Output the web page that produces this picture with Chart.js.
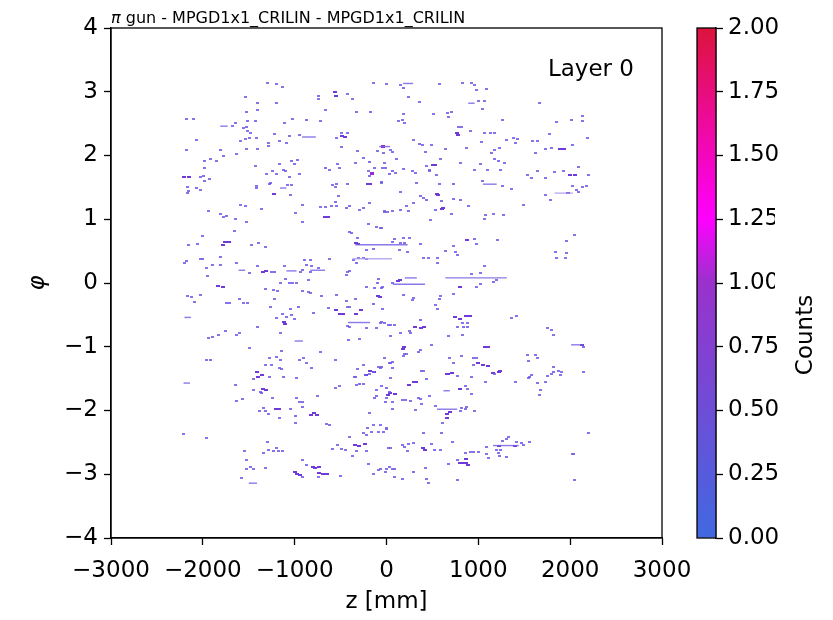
<!DOCTYPE html>
<html>
<head>
<meta charset="utf-8">
<script src="https://cdn.jsdelivr.net/npm/chart.js@4.4.0/dist/chart.umd.min.js"></script>
<style>
  html, body { margin: 0; padding: 0; background: #fff; }
  #wrap { position: relative; width: 833px; height: 620px; }
  #main { position: absolute; left: 0; top: 0; }
  #cbar { position: absolute; left: 680px; top: 0; }
</style>
</head>
<body>
<div id="wrap">
  <canvas id="main" width="833" height="620"></canvas>
  <canvas id="cbar" width="153" height="620"></canvas>
</div>
<script>
// hits: [z in mm, phi]
const hits = [
  [-1300,3.13],[-1200,3.12],[-1130,3.07],[-420,2.96],[-140,3.13],[0,3.12],[-1530,2.91],[-740,2.93],[-740,2.88],[-370,2.88],
  [-1400,2.82],[-1200,2.83],[-660,2.72],[-1410,2.71],[-1520,2.68],[-330,2.68],[-170,2.69],[-2100,2.57],[-2180,2.58],[-1510,2.54],
  [-1430,2.54],[-1640,2.51],[-1680,2.46],[-1520,2.45],[-1560,2.43],[-1510,2.38],[-1480,2.35],[-1490,2.27],[-1530,2.26],[-1590,2.23],
  [-1420,2.27],[-1110,2.51],[-1020,2.57],[-870,2.56],[-720,2.54],[-950,2.32],[-1220,2.34],[-1060,2.30],[-1280,2.19],[-1290,2.15],
  [-1160,2.22],[-1090,2.20],[-490,2.36],[-420,2.36],[-540,2.27],[-490,2.14],[-100,2.07],[-30,2.04],[-320,2.07],[-2070,2.24],
  [-2180,2.09],[-1810,2.09],[-1780,1.99],[-1630,2.02],[-1520,2.10],[-1400,2.10],
  [150,3.11],[180,3.06],[580,3.12],[830,3.14],[930,3.13],[960,3.11],[980,3.02],[1090,3.05],[240,2.91],[360,2.84],
  [1000,2.86],[1070,2.86],[1050,2.73],[510,2.65],[180,2.65],[660,2.67],[710,2.68],[670,2.61],[130,2.54],[170,2.56],
  [200,2.51],[1260,2.55],[780,2.44],[820,2.45],[910,2.39],[1070,2.36],[1130,2.36],[1180,2.36],[1310,2.24],[1380,2.28],
  [1430,2.26],[1400,2.20],[1030,2.21],[1590,2.22],[1640,2.23],[1670,2.83],[1850,2.53],[2010,2.56],[2130,2.62],[2130,2.54],
  [1780,2.34],[2190,2.27],[2030,2.17],[1800,2.11],[1730,2.10],[1620,2.04],[70,2.06],[40,2.08],[290,2.24],[360,2.18],
  [390,2.16],[490,2.16],[430,2.06],[640,2.10],[870,2.12],[1140,2.04],[1180,2.08],[1230,2.11],
  [-1980,1.91],[-1920,1.94],[-1850,1.92],[-1430,1.84],[-1980,1.81],[-2020,1.66],[-1990,1.68],[-1930,1.63],[-1980,1.60],[-2170,1.51],
  [-2160,1.44],[-2170,1.41],[-2070,1.49],[-2030,1.46],[-1420,1.52],[-1420,1.49],[-1310,1.71],[-1240,1.76],[-1200,1.71],[-1160,1.87],
  [-1120,1.77],[-1100,1.76],[-1030,1.91],[-1000,1.87],[-970,1.93],[-1060,1.66],[-950,1.71],[-1260,1.57],[-1270,1.55],[-1080,1.53],
  [-1030,1.53],[-1050,1.38],[-660,1.80],[-620,1.78],[-530,1.87],[-510,1.80],[-590,1.53],[-560,1.51],[-540,1.55],[-430,1.56],
  [-520,1.36],[-340,1.89],[-250,1.96],[-180,1.90],[-200,1.76],[-190,1.68],[-130,1.81],[-40,1.81],[-10,1.80],[-50,1.57],
  [30,1.71],[-1590,1.23],[-1540,1.21],[-1940,1.13],[-1810,1.08],[-1780,1.04],[-1740,1.05],[-1640,1.01],[-1520,0.96],[-1360,1.16],
  [-990,1.10],[-910,1.23],[-910,0.96],[-720,1.19],[-660,1.20],[-600,1.21],[-540,1.21],[-550,1.27],[-400,1.21],[-440,1.17],
  [-290,1.15],[-250,1.17],[-190,1.26],[-20,1.12],[10,1.11],[-200,0.92],[-110,0.88],[-70,0.86],
  [110,1.94],[590,1.94],[-20,1.88],[440,1.84],[470,1.77],[810,1.88],[960,1.78],[1020,1.87],[1100,1.78],[1180,1.95],
  [1220,1.91],[1290,1.88],[1240,1.77],[100,1.73],[60,1.75],[280,1.76],[320,1.72],[180,1.79],[470,1.75],[540,1.69],
  [1530,1.69],[1580,1.65],[1730,1.65],[1640,1.75],[1830,1.74],[1930,1.75],[2090,1.82],[2200,1.69],[-50,1.58],[330,1.57],
  [580,1.55],[730,1.56],[1260,1.52],[1360,1.47],[1040,1.60],[150,1.42],[370,1.36],[440,1.30],[400,1.34],[730,1.32],
  [600,1.28],[810,1.30],[2070,1.46],[2090,1.43],[2130,1.51],[2180,1.52],[2020,1.52],[1790,1.30],[1730,1.38],[1490,1.22],
  [890,1.21],[530,1.15],[710,1.09],[-20,1.13],[70,1.13],[150,1.15],[240,1.13],[220,1.21],[290,1.25],[1160,1.09],
  [1270,1.07],[1080,1.07],[1070,1.01],[480,0.99],[-50,0.86],
  [-2000,0.74],[-1660,0.82],[-2160,0.60],[-2060,0.61],[-1470,0.59],[-1390,0.63],[-1320,0.56],[-2200,0.32],[-2180,0.35],[-2030,0.37],
  [-2000,0.38],[-1960,0.23],[-1890,0.29],[-1810,0.29],[-1810,0.41],[-1630,0.31],[-1950,0.11],[-1490,0.16],[-1410,0.27],[-1250,0.18],
  [-1220,0.18],[-1110,0.26],[-940,0.18],[-910,0.21],[-870,0.28],[-830,0.18],[-820,0.26],[-740,0.24],[-890,0.36],[-830,0.36],
  [-620,0.37],[-400,0.80],[-380,0.79],[-320,0.70],[-360,0.36],[-310,0.39],[-250,0.40],[-430,0.18],[-400,0.19],[-440,0.13],
  [-140,0.54],[-220,0.52],[-2170,-0.20],[-2120,-0.22],[-2020,-0.19],[-2090,-0.30],[-1740,-0.31],[-1710,-0.31],[-1600,-0.25],[-1560,-0.31],
  [-1510,-0.32],[-1320,-0.10],[-1230,-0.11],[-1190,-0.13],[-1150,0.00],[-1060,0.00],[-1020,0.00],[-980,0.00],[-1100,0.07],[-850,0.05],
  [-910,-0.13],[-850,-0.14],[-830,-0.15],[-710,-0.20],[-1220,-0.25],[-1260,-0.38],[-1130,-0.49],[-1090,-0.53],[-1030,-0.50],[-960,-0.37],
  [-1050,-0.40],[-1000,-0.56],[-1200,-0.55],[-800,-0.47],[-630,-0.39],[-540,-0.19],[-440,-0.28],[-420,-0.37],[-400,-0.38],[-340,-0.25],
  [-220,-0.06],[-130,-0.08],[-100,0.00],[-50,-0.08],[-90,0.07],[-140,-0.33],[-40,-0.40],[-400,-0.69],[-430,-0.67],[-330,0.31],
  [-220,0.37],[-110,-0.71],[-70,-0.63],[-20,-0.62],[20,-0.66],[-220,-0.70],[-290,-0.88],[-410,-0.89],[40,-0.83],[-1750,-0.76],
  [-1940,-0.87],[-1890,-0.84],[-1830,-0.82],[-1630,-0.82],[-1600,-0.79],[-1410,-0.69],[-1150,-0.79],
  [90,0.69],[70,0.65],[150,0.63],[200,0.63],[180,0.70],[250,0.70],[370,0.61],[730,0.58],[960,0.69],[980,0.61],
  [1210,0.67],[140,0.51],[230,0.49],[400,0.39],[460,0.40],[560,0.40],[550,0.32],[640,0.50],[750,0.49],[770,0.44],
  [1070,0.27],[930,0.14],[1020,0.15],[60,0.00],[-40,-0.06],[980,-0.07],[1020,-0.02],[1160,0.02],[1200,0.05],[280,-0.26],
  [290,-0.23],[180,-0.19],[590,-0.20],[580,-0.25],[730,-0.18],[530,-0.35],[550,-0.40],[-50,-0.61],[40,-0.66],[90,-0.66],
  [260,-0.79],[250,-0.75],[150,-0.78],[370,-0.58],[830,-0.63],[880,-0.63],[770,-0.69],[840,-0.69],[880,-0.69],[680,-0.83],
  [830,-0.82],[1360,-0.55],[1420,-0.51],[1750,-0.71],[1800,-0.73],[1820,-0.82],[2050,0.75],[1960,0.66],[1840,0.49],[1960,0.47],
  [1850,0.39],[1950,0.39],
  [-1490,-1.02],[-1140,-1.07],[-720,-1.09],[-1270,-1.17],[-1200,-1.16],[-1150,-1.21],[-900,-1.17],[-950,-1.20],[-1320,-1.28],[-1250,-1.29],
  [-1160,-1.33],[-1140,-1.35],[-870,-1.26],[-820,-1.34],[-1960,-1.21],[-1920,-1.21],[-1270,-1.47],[-1120,-1.47],[-980,-1.49],[-550,-1.20],
  [-320,-1.35],[-250,-1.29],[-90,-1.31],[-60,-1.33],[-20,-1.17],[30,-1.25],[-340,-1.47],
  [490,-0.97],[370,-1.05],[350,-1.09],[200,-1.11],[220,-1.12],[180,-1.15],[40,-1.25],[70,-1.24],[-50,-1.32],[60,-1.34],
  [400,-1.38],[770,-1.46],[690,-1.18],[820,-1.15],[950,-1.17],[980,-1.17],[730,-1.26],[950,-1.29],[1180,-1.43],[930,-1.48],
  [1530,-1.13],[1620,-1.13],[1640,-1.18],[1550,-1.22],[1820,-1.32],[1820,-1.39],[1870,-1.38],[1910,-1.39],[1750,-1.46],[1800,-1.43],
  [1580,-1.44],[1560,-1.48],[1890,-1.45],[2140,-1.39],[2140,-1.00],[40,-1.49],[440,-1.51],
  [-1450,-1.51],[-1640,-1.60],[-1450,-1.68],[-1370,-1.71],[-1360,-1.73],[-1630,-1.85],[-1570,-1.82],[-1240,-1.80],[-980,-1.81],[-950,-1.86],
  [-920,-1.87],[-920,-1.94],[-750,-1.77],[-1380,-2.01],[-1340,-1.96],[-1320,-2.01],[-1290,-2.05],[-1050,-1.98],[-1170,-2.11],[-990,-2.09],
  [-990,-2.19],[-620,-2.23],[-650,-2.21],[-560,-1.64],[-510,-1.62],[-350,-1.48],[-230,-1.44],[-180,-1.43],[-140,-1.39],[-290,-1.59],
  [-250,-1.59],[-330,-1.60],[-110,-1.68],[-50,-1.62],[0,-1.65],[30,-1.71],[-110,-1.78],[-130,-1.81],[0,-1.81],[-190,-2.04],
  [-140,-2.23],[-60,-2.23],[0,-2.28],[-250,-2.35],[-210,-2.28],[-160,-2.34],[-90,-2.34],[-30,-2.34],[-220,-2.39],[-400,-2.42],
  [-2210,-2.37],[-1960,-2.43],[-1300,-2.50],[-1290,-2.62],[-1340,-2.66],[-1200,-2.59],[-1230,-2.64],[-1180,-2.64],[-1130,-2.64],[-1550,-2.64],
  [-1520,-2.77],[-1480,-2.88],[-1520,-2.92],[-1450,-2.91],[-1320,-2.90],[-920,-2.78],[-1580,-3.06],[-920,-3.05],[-870,-2.85],[-740,-3.04],
  [-500,-3.02],[-590,-2.61],[-530,-2.54],[-490,-2.60],[-450,-2.62],[-330,-2.64],[-220,-2.63],[-370,-2.72],[-200,-2.84],[-140,-3.00],
  [-90,-2.93],[-60,-2.92],[0,-2.92],[-10,-2.96],[30,-2.88],[20,-2.59],
  [380,-1.38],[-10,-1.87],[60,-1.87],[170,-1.84],[210,-1.84],[260,-1.85],[350,-1.81],[370,-1.82],[380,-1.90],[320,-1.99],
  [60,-1.98],[470,-1.77],[860,-1.61],[880,-1.66],[930,-1.74],[820,-1.96],[870,-1.94],[860,-1.98],[810,-2.01],[960,-2.01],
  [610,-2.20],[530,-1.93],[1080,-1.56],[1400,-1.56],[1550,-1.49],[1640,-1.57],[1730,-1.56],[1680,-1.68],[1670,-1.75],[0,-2.29],
  [400,-2.36],[600,-2.36],[720,-2.49],[170,-2.54],[240,-2.53],[290,-2.51],[200,-2.57],[40,-2.59],[490,-2.53],[520,-2.62],
  [590,-2.62],[230,-2.64],[860,-2.66],[910,-2.65],[950,-2.65],[1000,-2.65],[1090,-2.58],[1260,-2.48],[1330,-2.41],[1310,-2.44],
  [1420,-2.49],[1470,-2.51],[1490,-2.54],[1560,-2.49],[1200,-2.62],[1240,-2.62],[1220,-2.66],[1110,-2.75],[1230,-2.71],[1310,-2.73],
  [770,-2.78],[670,-2.84],[1090,-2.69],[2020,-2.69],[2040,-2.69],[2200,-2.36],[2050,-3.09],[60,-2.91],[90,-2.92],[290,-2.96],
  [420,-2.90],[440,-3.07],[460,-3.13],[770,-3.09],[170,-3.07],[90,-3.05]
];

// bins with higher counts (darker, more purple)
const denseHits = [
  [-560,2.99],[-550,2.94],[-480,2.30],[-450,2.29],[770,2.36],[780,2.32],[1890,2.10],[1930,2.10],[-2150,1.66],[-2210,1.66],
  [-1220,1.39],[-200,1.56],[-180,1.55],[-670,1.04],[-640,1.03],[510,1.85],[530,1.85],[550,1.39],[560,1.38],[1980,1.41],
  [600,1.16],[620,1.18],[2000,1.69],[2050,1.69],
  [-1760,0.65],[-1780,0.60],[-1720,0.64],[-1340,0.18],[-1310,0.19],[-330,0.62],[-310,0.61],[-1830,-0.05],[-1780,-0.06],[-1120,-0.61],
  [-1110,-0.64],[-550,-0.43],[-510,-0.48],[-470,-0.49],[-330,-0.48],[-280,-0.42],[-90,-0.20],[-70,-0.22],[880,0.67],[130,0.03],
  [150,0.05],[800,-0.07],[310,-0.69],[380,-0.70],[410,-0.69],[750,-0.53],[800,-0.57],[870,-0.52],[910,-0.52],
  [-1410,-1.40],[-1360,-1.44],[-1400,-1.47],[-180,-1.38],[-140,-1.39],[-220,-1.44],[190,-1.01],[180,-1.04],[660,-1.42],[670,-1.43],
  [710,-1.41],[1000,-1.25],[1050,-1.29],[1100,-1.30],[1110,-1.00],[1070,-1.01],[1160,-1.41],[1220,-1.39],[1240,-1.38],[-1350,-1.66],
  [-1310,-1.68],[-1170,-1.98],[-1200,-1.98],[-790,-2.04],[-760,-2.07],[-820,-2.07],[-1000,-2.96],[-980,-3.00],[-940,-3.01],[-800,-2.88],
  [-780,-2.90],[-740,-2.88],[-730,-2.98],[-690,-2.99],[-650,-3.00],[-340,-2.54],[-300,-2.56],[-230,-2.53],[300,-1.56],[320,-1.55],
  [240,-1.60],[40,-1.72],[90,-1.74],[20,-1.75],[800,-1.66],[660,-2.06],[690,-2.03],[660,-2.12],[400,-2.59],[420,-2.62],
  [870,-2.76],[870,-2.82],[840,-2.83],[800,-2.83],[890,-2.85],[1220,-2.55],[1400,-2.55],[2130,-0.97]
];

// the bins that reach ~1 count
const peakHits = [[-160,1.71],[-40,2.14]];

// horizontal tracks: [z from, z to, phi]
const streaks = [
  [-1810,-1730,2.46],[-920,-770,2.29],[-80,40,2.14],[-1160,-1090,1.49],[180,290,3.13],[890,960,2.82],
  [1050,1200,1.55],[-1610,-1540,0.20],[-1090,-980,0.19],[-830,-670,0.20],[-2200,-2130,-0.54],[-420,-180,-0.62],
  [-1000,-910,-0.91],[-340,230,0.60],[640,1310,0.08],[200,330,0.08],[70,420,-0.02],[2010,2140,-0.97],
  [-2210,-2140,-1.57],[-1500,-1410,-3.14],[620,690,-1.69],[550,770,-1.98],[1160,1440,-2.55]
];
const faintStreaks = [[-370,60,0.38],[1830,2030,1.41]];

const xTicks = [-3000, -2000, -1000, 0, 1000, 2000, 3000];
const yTicks = [-4, -3, -2, -1, 0, 1, 2, 3, 4];
const cbarTicks = [0, 0.25, 0.5, 0.75, 1, 1.25, 1.5, 1.75, 2];

const FONT = 'DejaVu Sans';
const SIZE = 23;
const minus = v => String(v).replace('-', '\u2212');

function binMark(color, w, h) {
    const c = document.createElement('canvas');
    c.width = w;
    c.height = h;
    const g = c.getContext('2d');
    g.fillStyle = color;
    g.fillRect(0, 0, w, h);
    return c;
}

const toXY = arr => arr.map(p => ({ x: p[0], y: p[1] }));

function streakSet(s, color) {
    return {
        data: [{ x: s[0], y: s[2] }, { x: s[1], y: s[2] }],
        showLine: true,
        borderColor: color,
        borderWidth: 1.4,
        pointRadius: 0
    };
}

const datasets = [];
streaks.forEach(s => datasets.push(streakSet(s, 'rgba(120,96,228,0.85)')));
faintStreaks.forEach(s => datasets.push(streakSet(s, 'rgba(175,160,238,0.85)')));
datasets.push({ data: toXY(hits), pointStyle: binMark('rgba(112,92,230,0.85)', 3, 2), pointRadius: 1.5 });
datasets.push({ data: toXY(denseHits), pointStyle: binMark('#6f3ad8', 4, 2), pointRadius: 1.5 });
datasets.push({ data: toXY(peakHits), pointStyle: binMark('#9a2ad2', 4, 3), pointRadius: 1.5 });

const decor = {
    id: 'decor',
    afterDraw(chart) {
        const ctx = chart.ctx;
        const a = chart.chartArea;
        ctx.save();
        ctx.strokeStyle = '#000';
        ctx.lineWidth = 1.3;
        ctx.strokeRect(a.left, a.top, a.right - a.left, a.bottom - a.top);
        ctx.fillStyle = '#000';
        ctx.textBaseline = 'alphabetic';
        ctx.font = 'italic 16px "' + FONT + '"';
        ctx.fillText('\u03c0', a.left, 23);
        const w = ctx.measureText('\u03c0').width;
        ctx.font = '16px "' + FONT + '"';
        ctx.fillText(' gun - MPGD1x1_CRILIN - MPGD1x1_CRILIN', a.left + w, 23);
        ctx.font = SIZE + 'px "' + FONT + '"';
        ctx.textAlign = 'right';
        ctx.fillText('Layer 0', 634, 76);
        // label cut by the left edge of the figure
        ctx.fillStyle = '#777';
        ctx.translate(-2, 337);
        ctx.rotate(-Math.PI / 2);
        ctx.textAlign = 'center';
        ctx.fillText('Counts', 0, 0);
        ctx.restore();
    }
};

new Chart(document.getElementById('main'), {
    type: 'scatter',
    data: { datasets: datasets },
    options: {
        responsive: false,
        animation: false,
        events: [],
        layout: { padding: { top: 28, right: 171, left: 0, bottom: 0 } },
        plugins: { legend: { display: false }, tooltip: { enabled: false } },
        scales: {
            x: {
                type: 'linear', min: -3000, max: 3000,
                afterBuildTicks: s => { s.ticks = xTicks.map(v => ({ value: v })); },
                afterFit: s => { s.height = 82; },
                ticks: { color: '#000', font: { family: FONT, size: SIZE }, padding: 12, maxRotation: 0, callback: v => minus(v) },
                grid: { drawOnChartArea: false, color: '#000', tickLength: 7, tickWidth: 1.3 },
                border: { color: '#000', width: 1.3 },
                title: { display: true, text: 'z [mm]', color: '#000', font: { family: FONT, size: SIZE }, padding: { top: -4 } }
            },
            y: {
                type: 'linear', min: -4, max: 4,
                afterBuildTicks: s => { s.ticks = yTicks.map(v => ({ value: v })); },
                afterFit: s => { s.width = 111; },
                ticks: { color: '#000', font: { family: FONT, size: SIZE }, padding: 6, callback: v => minus(v) },
                grid: { drawOnChartArea: false, color: '#000', tickLength: 7, tickWidth: 1.3 },
                border: { color: '#000', width: 1.3 },
                title: { display: true, text: '\u03c6', color: '#000', font: { family: FONT, size: SIZE, style: 'italic' }, padding: { top: 24 } }
            }
        }
    },
    plugins: [decor]
});

// colour bar
const cbarDecor = {
    id: 'cbarDecor',
    afterDraw(chart) {
        const ctx = chart.ctx;
        const a = chart.chartArea;
        ctx.save();
        ctx.strokeStyle = '#000';
        ctx.lineWidth = 1.3;
        ctx.strokeRect(a.left, a.top, a.right - a.left, a.bottom - a.top);
        ctx.fillStyle = '#fff';
        ctx.fillRect(95, 205, 20, 92);
        ctx.fillStyle = '#000';
        ctx.font = SIZE + 'px "' + FONT + '"';
        ctx.translate(126, 335);
        ctx.rotate(-Math.PI / 2);
        ctx.textAlign = 'center';
        ctx.textBaseline = 'middle';
        ctx.fillText('Counts', 0, 0);
        ctx.restore();
    }
};

new Chart(document.getElementById('cbar'), {
    type: 'bar',
    data: {
        labels: ['Counts'],
        datasets: [{
            data: [2],
            barPercentage: 1,
            categoryPercentage: 1,
            backgroundColor: c => {
                const a = c.chart.chartArea;
                if (!a) return '#4169e1';
                const g = c.chart.ctx.createLinearGradient(0, a.bottom, 0, a.top);
                g.addColorStop(0, '#4169e1');
                g.addColorStop(0.5, '#9932cc');
                g.addColorStop(0.625, '#ff00ff');
                g.addColorStop(1, '#dc143c');
                return g;
            }
        }]
    },
    options: {
        responsive: false,
        animation: false,
        events: [],
        layout: { padding: { top: 28, left: 17, right: 0, bottom: 82 } },
        plugins: { legend: { display: false }, tooltip: { enabled: false } },
        scales: {
            x: { display: false },
            y: {
                position: 'right', min: 0, max: 2,
                afterBuildTicks: s => { s.ticks = cbarTicks.map(v => ({ value: v })); },
                afterFit: s => { s.width = 117; },
                ticks: { color: '#000', font: { family: FONT, size: SIZE }, padding: 5, callback: v => v.toFixed(2) },
                grid: { drawOnChartArea: false, color: '#000', tickLength: 7, tickWidth: 1.3 },
                border: { color: '#000', width: 1.3 }
            }
        }
    },
    plugins: [cbarDecor]
});
</script>
</body>
</html>
